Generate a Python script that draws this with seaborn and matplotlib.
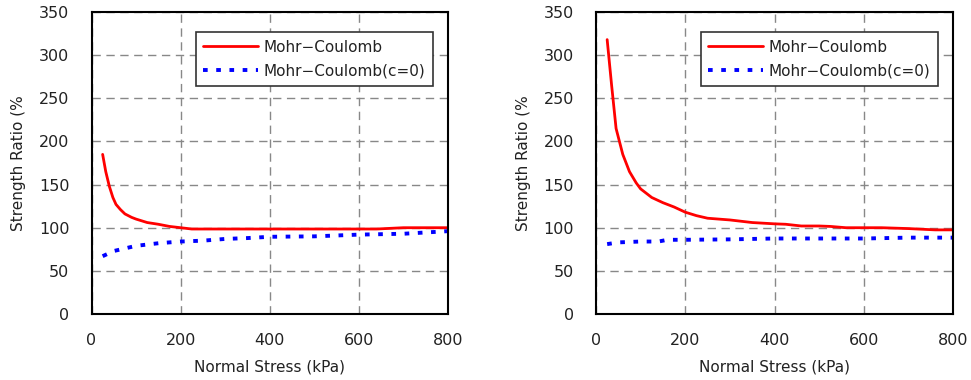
import matplotlib
matplotlib.use("Agg")
import matplotlib.pyplot as plt
import seaborn as sns
import pandas as pd

# Left panel
left_mc_x = [25, 32, 40, 48, 55, 65, 75, 90, 100, 125, 150, 175, 200, 225, 300, 400, 500, 640, 700, 800]
left_mc_y = [185, 165, 148, 135, 127, 121, 116, 112, 110, 106, 104, 101.5, 100, 98.5, 98.5, 98.5, 98.5, 98.5, 100, 100]
left_c0_x = [25, 50, 75, 100, 150, 200, 250, 300, 350, 400, 500, 600, 700, 800]
left_c0_y = [67, 73, 76, 79, 82, 84, 85, 87, 88, 89.5, 90, 92, 93, 96]

# Right panel
right_mc_x = [25, 35, 45, 60, 75, 90, 100, 125, 150, 175, 200, 225, 250, 300, 350, 400, 425, 460, 500, 525, 560, 640, 700, 760, 800]
right_mc_y = [318, 265, 215, 185, 165, 152, 145, 135, 129, 124, 118, 114, 111, 109, 106, 104.5, 104, 102, 102, 101.5, 100, 100, 99, 97.5, 97.5]
right_c0_x = [25, 50, 100, 140, 160, 200, 300, 400, 600, 700, 800]
right_c0_y = [81, 83, 84, 84, 86, 86, 86.5, 87.5, 87.5, 88.5, 88.5]

labels = ["Mohr\u2212Coulomb", "Mohr\u2212Coulomb(c=0)"]
xticks = [0, 200, 400, 600, 800]
yticks = [0, 50, 100, 150, 200, 250, 300, 350]

sns.set_theme(style="white")
plt.rcParams['font.family'] = ['DejaVu Sans']

fig = plt.figure(figsize=(9.71, 3.8), dpi=100)
W, H = 971, 380
axes_px = [(91.5, 448), (596, 953)]
top, bottom = 12, 314

panels = [(left_mc_x, left_mc_y, left_c0_x, left_c0_y),
          (right_mc_x, right_mc_y, right_c0_x, right_c0_y)]

for (x0, x1), (mx, my, cx, cy) in zip(axes_px, panels):
    ax = fig.add_axes([x0 / W, 1 - bottom / H, (x1 - x0) / W, (bottom - top) / H])
    df1 = pd.DataFrame({"x": mx, "y": my})
    df2 = pd.DataFrame({"x": cx, "y": cy})
    sns.lineplot(data=df1, x="x", y="y", ax=ax, color="#ff0000", lw=2, label=labels[0])
    sns.lineplot(data=df2, x="x", y="y", ax=ax, color="#0000ff", lw=2.8,
                 linestyle=(0, (1.2, 2.2)), label=labels[1])
    ax.set_xlim(0, 800)
    ax.set_ylim(0, 350)
    ax.set_xticks(xticks)
    ax.set_yticks(yticks)
    ax.grid(True, color="#888888", linestyle=(0, (6, 4)), lw=1)
    for s in ax.spines.values():
        s.set_color("black")
        s.set_linewidth(1.5)
    ax.tick_params(direction="in", length=6, width=1, colors="black", labelsize=11.5,
                   labelcolor="#222222")
    ax.tick_params(axis="y", pad=16)
    ax.tick_params(axis="x", pad=14)
    ax.set_xlabel("Normal Stress (kPa)", fontsize=11, color="#222222", labelpad=8)
    ax.set_ylabel("Strength Ratio (%", fontsize=11, color="#222222", labelpad=9)
    leg = ax.legend(loc="upper right", bbox_to_anchor=(0.958, 0.934), borderaxespad=0,
                    fontsize=11,
                    frameon=True, fancybox=False, edgecolor="#333333", framealpha=1,
                    handlelength=3.6, borderpad=0.5, labelspacing=0.6, handletextpad=0.35)
    leg.get_frame().set_linewidth(1.2)
    for t in leg.get_texts():
        t.set_color("#222222")

fig.savefig("out.png", dpi=100)
